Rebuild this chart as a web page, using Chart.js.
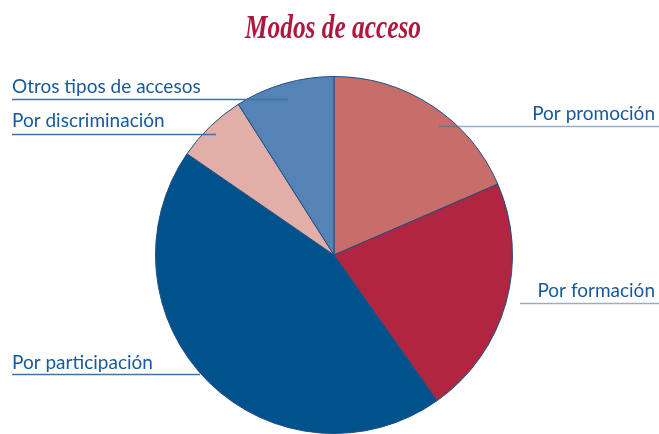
<!DOCTYPE html>
<html>
<head>
<meta charset="utf-8">
<script src="https://cdn.jsdelivr.net/npm/chart.js@4"></script>
<style>
  html, body { margin: 0; padding: 0; background: #fff; }
  #wrap { width: 659px; height: 434px; position: relative; }
</style>
</head>
<body>
<div id="wrap"><canvas id="myChart" width="659" height="434"></canvas></div>
<script>
// Slice order is clockwise from 12 o'clock, as in the picture.
const titleText = "Modos de acceso";
const categories = ["Por promoción", "Por formación", "Por participación", "Por discriminación", "Otros tipos de accesos"];
const shares = [18.5, 21.7, 44.4, 6.4, 9.0];
const sliceColors = ["#c76e6b", "#b0253f", "#00528c", "#e2aea8", "#5683b5"];

// where each label and its leader line go (side, text baseline, line y, line ends)
const labelLayout = [
  { side: "right", y: 120, lineY: 126, x0: 439, x1: 659 },
  { side: "right", y: 297, lineY: 303, x0: 520, x1: 659 },
  { side: "left",  y: 369, lineY: 374, x0: 12,  x1: 200 },
  { side: "left",  y: 127, lineY: 134, x0: 12,  x1: 216 },
  { side: "left",  y: 93,  lineY: 99,  x0: 12,  x1: 288 },
];

// draws the title and the leader-line labels on top of the pie
const labelPlugin = {
  id: "labels",
  afterDraw(chart) {
    const ctx = chart.ctx;
    ctx.save();

    // title: condensed bold italic serif
    ctx.font = "italic bold 33px 'Liberation Serif'";
    ctx.fillStyle = "#b0173f";
    ctx.textBaseline = "alphabetic";
    const w = ctx.measureText(titleText).width;
    const sx = 176 / w;
    ctx.translate(333, 38);
    ctx.scale(sx, 1);
    ctx.textAlign = "center";
    ctx.fillText(titleText, 0, 0);
    ctx.setTransform(1, 0, 0, 1, 0, 0);

    ctx.font = "19px Lato";
    categories.forEach((name, i) => {
      const l = labelLayout[i];
      ctx.strokeStyle = l.side === "left" ? "#3d74a6" : "rgba(60,110,160,0.55)";
      ctx.lineWidth = 1.3;
      ctx.beginPath();
      ctx.moveTo(l.x0, l.lineY + 0.5);
      ctx.lineTo(l.x1, l.lineY + 0.5);
      ctx.stroke();

      ctx.fillStyle = "#17599a";
      if (l.side === "left") {
        ctx.textAlign = "left";
        ctx.fillText(name, 12, l.y);
      } else {
        ctx.textAlign = "right";
        ctx.fillText(name, 655, l.y);
      }
    });
    ctx.restore();
  }
};

const ctx = document.getElementById("myChart").getContext("2d");

new Chart(ctx, {
  type: "pie",
  data: {
    labels: categories,
    datasets: [{
      data: shares,
      backgroundColor: sliceColors,
      borderColor: "#1d4f85",
      borderWidth: 1,
    }],
  },
  options: {
    responsive: false,
    animation: false,
    layout: { padding: { top: 76, bottom: 0, left: 155, right: 146 } },
    plugins: {
      legend: { display: false },
      tooltip: { enabled: false },
    },
  },
  plugins: [labelPlugin],
});
</script>
</body>
</html>
